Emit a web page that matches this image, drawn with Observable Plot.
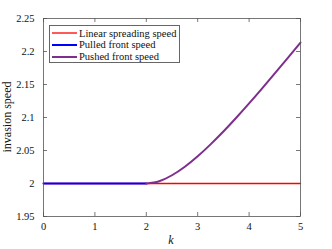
<!DOCTYPE html>
<html>
<head>
<meta charset="utf-8">
<script src="https://cdn.jsdelivr.net/npm/d3@7"></script>
<script src="https://cdn.jsdelivr.net/npm/@observablehq/plot@0.6"></script>
<style>
  html, body { margin: 0; padding: 0; background: #fff; }
  #wrap { position: relative; width: 332px; height: 249px; font-family: "Times New Roman", "Liberation Serif", "DejaVu Serif", serif; }
  #wrap svg, #wrap svg text { font-family: "Times New Roman", "Liberation Serif", "DejaVu Serif", serif !important; }
  #legend { position: absolute; left: 49px; top: 25px; width: 131px; height: 38px; border: 1px solid #666; background: #fff; box-sizing: border-box; font-size: 10.5px; color: #111; }
  .row { position: absolute; left: 2px; height: 12px; display: flex; align-items: center; white-space: nowrap; }
  .row svg { margin-right: 2px; }
</style>
</head>
<body>
<div id="wrap"></div>
<script>
const seriesNames = ["Linear spreading speed", "Pulled front speed", "Pushed front speed"];
const seriesColors = ["#ff0000", "#0000ff", "#7e2f8e"];
const seriesWidths = [1.3, 2, 2];

const kLinear = [0, 5];
const vLinear = [2, 2];
const kPulled = [0, 2];
const vPulled = [2, 2];
const kPushed = [2, 2.25, 2.5, 2.75, 3, 3.25, 3.5, 3.75, 4, 4.25, 4.5, 4.75, 5];
const vPushed = [2.000, 2.0035, 2.0125, 2.0254, 2.0412, 2.0593, 2.0788, 2.0996, 2.1213, 2.1437, 2.1667, 2.1900, 2.2136];

const xTicks = [0, 1, 2, 3, 4, 5];
const yTicks = [1.95, 2, 2.05, 2.1, 2.15, 2.2, 2.25];

const toRows = (ks, vs) => ks.map((k, i) => ({k, v: vs[i]}));
const linear = toRows(kLinear, vLinear);
const pulled = toRows(kPulled, vPulled);
const pushed = toRows(kPushed, vPushed);

const fmt = d => String(+d.toFixed(2));
const axisColor = "#555";
const serif = "Times New Roman, Liberation Serif, DejaVu Serif, serif";

const xDom = [0, 5], yDom = [1.95, 2.25];
const tx = (xDom[1] - xDom[0]) * 4 / 257;
const ty = (yDom[1] - yDom[0]) * 4 / 198;

const chart = Plot.plot({
  width: 332,
  height: 249,
  marginLeft: 43,
  marginRight: 32,
  marginTop: 18,
  marginBottom: 33,
  style: {fontFamily: serif, fontSize: "10.5px", background: "#fff", color: "#111"},
  x: {domain: xDom},
  y: {domain: yDom},
  marks: [
    Plot.axisX(xTicks, {anchor: "bottom", tickSize: 0, tickPadding: 6, tickFormat: fmt, label: null, fontSize: 10.5}),
    Plot.axisY(yTicks, {anchor: "left", tickSize: 0, tickPadding: 9, tickFormat: fmt, label: null, fontSize: 10.5}),
    Plot.ruleX(xTicks, {x: d => d, y1: yDom[0], y2: yDom[0] + ty, stroke: axisColor, strokeWidth: 0.8}),
    Plot.ruleX(xTicks, {x: d => d, y1: yDom[1], y2: yDom[1] - ty, stroke: axisColor, strokeWidth: 0.8}),
    Plot.ruleY(yTicks, {y: d => d, x1: xDom[0], x2: xDom[0] + tx, stroke: axisColor, strokeWidth: 0.8}),
    Plot.ruleY(yTicks, {y: d => d, x1: xDom[1], x2: xDom[1] - tx, stroke: axisColor, strokeWidth: 0.8}),
    Plot.line(linear, {x: "k", y: "v", stroke: seriesColors[0], strokeWidth: seriesWidths[0]}),
    Plot.line(pulled, {x: "k", y: "v", stroke: seriesColors[1], strokeWidth: seriesWidths[1]}),
    Plot.line(pushed, {x: "k", y: "v", stroke: seriesColors[2], strokeWidth: seriesWidths[2], curve: "natural"}),
    Plot.frame({stroke: axisColor, strokeWidth: 0.8})
  ]
});

const wrap = document.getElementById("wrap");
wrap.appendChild(chart);
d3.select(chart).selectAll("text").attr("font-family", serif);

const svg = d3.select(chart);
svg.append("text")
  .attr("x", 171).attr("y", 244)
  .attr("text-anchor", "middle")
  .attr("font-family", serif)
  .attr("font-style", "italic")
  .attr("font-size", 12)
  .attr("fill", "#111")
  .text("k");
svg.append("text")
  .attr("transform", "translate(11,117) rotate(-90)")
  .attr("text-anchor", "middle")
  .attr("font-family", serif)
  .attr("font-size", 12)
  .attr("fill", "#111")
  .text("invasion speed");

const legend = document.createElement("div");
legend.id = "legend";
seriesNames.forEach((name, i) => {
  const row = document.createElement("div");
  row.className = "row";
  row.style.top = (1 + i * 11.8) + "px";
  const sw = d3.create("svg").attr("width", 25).attr("height", 6);
  sw.append("line").attr("x1", 0).attr("x2", 25).attr("y1", 3).attr("y2", 3)
    .attr("stroke", seriesColors[i]).attr("stroke-width", seriesWidths[i]);
  const t = document.createElement("span");
  t.textContent = name;
  row.appendChild(sw.node());
  row.appendChild(t);
  legend.appendChild(row);
});
wrap.appendChild(legend);
</script>
</body>
</html>
